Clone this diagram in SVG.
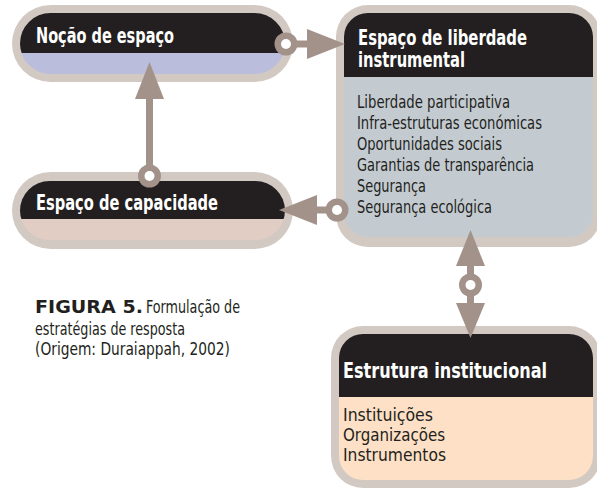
<svg xmlns="http://www.w3.org/2000/svg" width="597" height="491" viewBox="0 0 597 491">
<style>
.border{fill:#d3c9c3}
.dark{fill:#231f20}
.title{font-family:"Liberation Sans Narrow","DejaVu Sans Condensed","Roboto Condensed","Liberation Sans",sans-serif;font-weight:bold;font-size:22px;fill:#ffffff}
.title2{font-family:"Liberation Sans Narrow","DejaVu Sans Condensed","Roboto Condensed","Liberation Sans",sans-serif;font-weight:bold;font-size:21px;fill:#ffffff}
.body{font-family:"Liberation Sans Narrow","DejaVu Sans Condensed","Roboto Condensed","Liberation Sans",sans-serif;font-size:18.5px;fill:#231f20}
.small{font-family:"Liberation Sans Narrow","DejaVu Sans Condensed","Roboto Condensed","Liberation Sans",sans-serif;font-size:17px;fill:#231f20}
.cap{font-family:"Liberation Sans Narrow","DejaVu Sans Condensed","Roboto Condensed","Liberation Sans",sans-serif;font-size:17.5px;fill:#231f20}
.capb{font-family:"DejaVu Sans","Liberation Sans",sans-serif;font-weight:900;font-size:18px;fill:#231f20}
.conn{fill:#a39289}
.shaft{stroke:#a39289;stroke-width:7;fill:none}
.hole{fill:#ffffff}
</style>
<defs>
<clipPath id="c1"><rect x="20" y="13" width="265" height="61" rx="30.5"/></clipPath>
<clipPath id="c2"><rect x="344" y="13" width="249" height="224" rx="24"/></clipPath>
<clipPath id="c3"><rect x="20" y="181" width="265" height="59" rx="29.5"/></clipPath>
<clipPath id="c4"><rect x="339" y="334" width="254" height="146" rx="24"/></clipPath>
</defs>
<rect width="597" height="491" fill="#ffffff"/>

<g id="node-nocao">
<rect class="border" x="12" y="5" width="281" height="77" rx="38.5"/>
<g clip-path="url(#c1)">
<rect x="20" y="53" width="265" height="21" fill="#bbbddc"/>
<rect class="dark" x="20" y="13" width="265" height="40"/>
</g>
<text class="title" x="36" y="43" textLength="138" lengthAdjust="spacingAndGlyphs">Noção de espaço</text>
</g>

<g id="node-liberdade">
<rect class="border" x="336" y="5" width="265" height="242" rx="32"/>
<g clip-path="url(#c2)">
<rect x="344" y="77" width="249" height="160" fill="#c3cbd1"/>
<rect class="dark" x="344" y="13" width="249" height="64"/>
</g>
<text class="title2" x="358" y="45" textLength="169" lengthAdjust="spacingAndGlyphs">Espaço de liberdade</text>
<text class="title2" x="358" y="67" textLength="107" lengthAdjust="spacingAndGlyphs">instrumental</text>
<text class="body" x="357" y="108" textLength="153" lengthAdjust="spacingAndGlyphs">Liberdade participativa</text>
<text class="body" x="357" y="129" textLength="185" lengthAdjust="spacingAndGlyphs">Infra-estruturas económicas</text>
<text class="body" x="357" y="150" textLength="145" lengthAdjust="spacingAndGlyphs">Oportunidades sociais</text>
<text class="body" x="357" y="171" textLength="177" lengthAdjust="spacingAndGlyphs">Garantias de transparência</text>
<text class="body" x="357" y="192" textLength="69" lengthAdjust="spacingAndGlyphs">Segurança</text>
<text class="body" x="357" y="213" textLength="135" lengthAdjust="spacingAndGlyphs">Segurança ecológica</text>
</g>

<g id="node-capacidade">
<rect class="border" x="12" y="172" width="281" height="77" rx="38.5"/>
<g clip-path="url(#c3)">
<rect x="20" y="219" width="265" height="21" fill="#e2cdc5"/>
<rect class="dark" x="20" y="181" width="265" height="38"/>
</g>
<text class="title" x="36" y="210" textLength="182" lengthAdjust="spacingAndGlyphs">Espaço de capacidade</text>
</g>

<g id="node-estrutura">
<rect class="border" x="331" y="326" width="270" height="162" rx="32"/>
<g clip-path="url(#c4)">
<rect x="339" y="397" width="254" height="83" fill="#fde0c5"/>
<rect class="dark" x="339" y="334" width="254" height="63"/>
</g>
<text class="title" x="343" y="378" textLength="204" lengthAdjust="spacingAndGlyphs">Estrutura institucional</text>
<text class="small" x="343" y="421" textLength="90" lengthAdjust="spacingAndGlyphs">Instituições</text>
<text class="small" x="343" y="441" textLength="102" lengthAdjust="spacingAndGlyphs">Organizações</text>
<text class="small" x="343" y="461" textLength="103" lengthAdjust="spacingAndGlyphs">Instrumentos</text>
</g>

<g id="caption">
<text class="capb" x="35" y="313" textLength="108" lengthAdjust="spacingAndGlyphs">FIGURA 5.</text>
<text class="cap" x="146" y="313" textLength="94" lengthAdjust="spacingAndGlyphs">Formulação de</text>
<text class="cap" x="35" y="335" textLength="150" lengthAdjust="spacingAndGlyphs">estratégias de resposta</text>
<text class="cap" x="35" y="355" textLength="195" lengthAdjust="spacingAndGlyphs">(Origem: Duraiappah, 2002)</text>
</g>

<g id="connectors">
<g id="c-nocao-liberdade">
<line class="shaft" x1="286" y1="44" x2="309" y2="44"/>
<circle class="conn" cx="286" cy="44" r="11.5"/>
<circle class="hole" cx="286" cy="44" r="5"/>
<polygon class="conn" points="307,29 345,44 307,59"/>
</g>
<g id="c-capacidade-nocao">
<line class="shaft" x1="149.5" y1="176" x2="149.5" y2="97"/>
<circle class="conn" cx="149.5" cy="176" r="11.5"/>
<circle class="hole" cx="149.5" cy="176" r="5"/>
<polygon class="conn" points="135,99 164,99 149.5,62"/>
</g>
<g id="c-liberdade-capacidade">
<line class="shaft" x1="337" y1="210" x2="315" y2="210"/>
<circle class="conn" cx="337" cy="210" r="11.5"/>
<circle class="hole" cx="337" cy="210" r="5"/>
<polygon class="conn" points="317,195 317,225 279,210"/>
</g>
<g id="c-liberdade-estrutura">
<line class="shaft" x1="470.5" y1="264" x2="470.5" y2="305"/>
<polygon class="conn" points="456,266 485,266 470.5,230"/>
<polygon class="conn" points="456,303 485,303 470.5,338"/>
<circle class="conn" cx="470.5" cy="285" r="11.5"/>
<circle class="hole" cx="470.5" cy="285" r="5"/>
</g>
</g>
</svg>
